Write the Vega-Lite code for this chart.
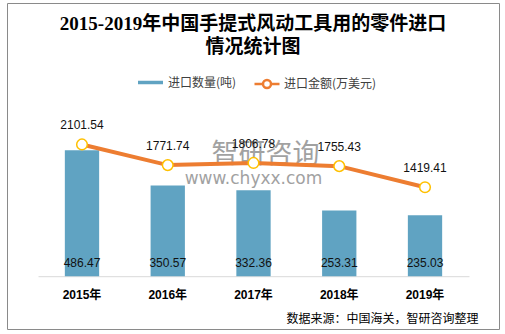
{
  "$schema": "https://vega.github.io/schema/vega-lite/v6.json",
  "width": 492,
  "height": 326,
  "autosize": {"type": "none"},
  "padding": {"left": 7, "top": 3, "right": 6, "bottom": 5},
  "background": "white",
  "config": {
    "view": {"stroke": "#8a8a8a", "strokeWidth": 1},
    "font": "Liberation Sans, Noto Sans CJK SC"
  },
  "title": {
    "text": ["2015-2019年中国手提式风动工具用的零件进口", "情况统计图"],
    "font": "Liberation Serif, Noto Sans CJK SC",
    "fontSize": 19,
    "fontWeight": "bold",
    "color": "#000000",
    "anchor": "middle",
    "offset": -54,
    "lineHeight": 23.5
  },
  "data": {
    "values": [
      {"year": "2015年", "qty": 486.47, "amt": 2101.54},
      {"year": "2016年", "qty": 350.57, "amt": 1771.74},
      {"year": "2017年", "qty": 332.36, "amt": 1806.78},
      {"year": "2018年", "qty": 253.31, "amt": 1755.43},
      {"year": "2019年", "qty": 235.03, "amt": 1419.41}
    ]
  },
  "encoding": {
    "x": {
      "field": "year",
      "type": "nominal",
      "sort": null,
      "scale": {"range": [31, 462], "paddingInner": 0.6, "paddingOuter": 0.313},
      "axis": {
        "orient": "bottom",
        "offset": -52.8,
        "domainColor": "#d9d9d9",
        "domainWidth": 1,
        "ticks": false,
        "tickSize": 0,
        "labelPadding": 13,
        "labelFontSize": 12,
        "labelFontWeight": "bold",
        "labelColor": "#000000",
        "labelFont": "Liberation Sans, Noto Sans CJK SC",
        "labelAngle": 0,
        "grid": false,
        "title": "数据来源：中国海关，智研咨询整理",
        "titleX": 471,
        "titleY": 42.6,
        "titleAlign": "right",
        "titleAnchor": "end",
        "titleBaseline": "middle",
        "titleFontSize": 12,
        "titleFontWeight": "normal",
        "titleColor": "#000000",
        "titleFont": "Noto Sans CJK SC"
      }
    }
  },
  "layer": [
    {
      "mark": {"type": "bar"},
      "encoding": {
        "y": {"field": "qty", "type": "quantitative", "scale": {"domain": [-203.9, 1055.1], "nice": false, "zero": false}, "axis": null},
        "color": {
          "datum": "进口数量(吨)",
          "type": "nominal",
          "scale": {"range": ["#60a3c2"]},
          "legend": {
            "orient": "none",
            "legendX": 131,
            "legendY": 67,
            "title": null,
            "symbolType": "M-1,-0.14H1V0.14H-1Z",
            "symbolSize": 625,
            "symbolStrokeWidth": 0,
            "labelFontSize": 12,
            "labelColor": "#404040",
            "labelOffset": 5,
            "labelFont": "Noto Sans CJK SC"
          }
        }
      }
    },
    {
      "mark": {"type": "text", "baseline": "middle", "dy": -13, "fontSize": 12, "color": "#111111"},
      "encoding": {
        "y": {"datum": 0, "type": "quantitative", "scale": {"domain": [-203.9, 1055.1], "nice": false, "zero": false}, "axis": null},
        "text": {"field": "qty", "type": "quantitative", "format": ".2f"}
      }
    },
    {
      "data": {"values": [{"t": "智研咨询"}]},
      "mark": {"type": "text", "baseline": "middle", "dx": 12, "fontSize": 27, "color": "#7a7a7a", "opacity": 0.7, "font": "Noto Sans CJK SC"},
      "encoding": {
        "x": {"datum": "2017年", "type": "nominal"},
        "y": {"datum": 468, "type": "quantitative", "scale": {"domain": [-203.9, 1055.1], "nice": false, "zero": false}, "axis": null},
        "text": {"field": "t", "type": "nominal"}
      }
    },
    {
      "data": {"values": [{"t": "www.chyxx.com"}]},
      "mark": {"type": "text", "baseline": "middle", "fontSize": 17, "color": "#7a7a7a", "opacity": 0.7, "font": "DejaVu Sans"},
      "encoding": {
        "x": {"datum": "2017年", "type": "nominal"},
        "y": {"datum": 375, "type": "quantitative", "scale": {"domain": [-203.9, 1055.1], "nice": false, "zero": false}, "axis": null},
        "text": {"field": "t", "type": "nominal"}
      }
    },
    {
      "mark": {"type": "line", "strokeWidth": 4},
      "encoding": {
        "y": {"field": "amt", "type": "quantitative", "scale": {"domain": [-842.2, 4357.5], "nice": false, "zero": false}, "axis": null},
        "stroke": {
          "datum": "进口金额(万美元)",
          "type": "nominal",
          "scale": {"range": ["#ED7D31"]},
          "legend": {
            "orient": "none",
            "legendX": 246,
            "legendY": 67,
            "title": null,
            "symbolType": "M-1,0H-0.32M0.32,0H1M0.32,0A0.32,0.32 0 1 1 -0.32,0A0.32,0.32 0 1 1 0.32,0",
            "symbolSize": 625,
            "symbolStrokeWidth": 2.5,
            "symbolFillColor": "white",
            "labelFontSize": 12,
            "labelColor": "#404040",
            "labelOffset": 3,
            "labelFont": "Noto Sans CJK SC"
          }
        }
      }
    },
    {
      "mark": {"type": "point", "filled": true, "fill": "white", "stroke": "#FFC000", "strokeWidth": 1.5, "size": 113, "opacity": 1},
      "encoding": {
        "y": {"field": "amt", "type": "quantitative", "scale": {"domain": [-842.2, 4357.5], "nice": false, "zero": false}, "axis": null}
      }
    },
    {
      "mark": {"type": "text", "baseline": "middle", "dy": -19, "fontSize": 12, "color": "#111111"},
      "encoding": {
        "y": {"field": "amt", "type": "quantitative", "scale": {"domain": [-842.2, 4357.5], "nice": false, "zero": false}, "axis": null},
        "text": {"field": "amt", "type": "quantitative", "format": ".2f"}
      }
    }
  ],
  "resolve": {"scale": {"y": "independent"}}
}
